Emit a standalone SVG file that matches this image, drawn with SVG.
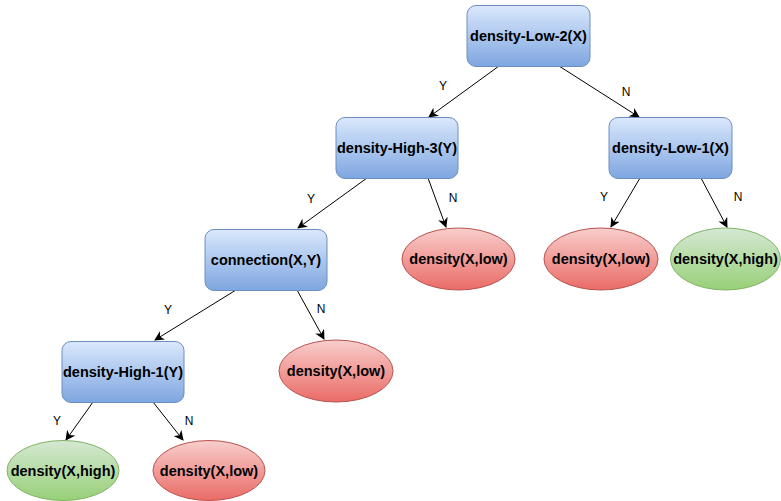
<svg xmlns="http://www.w3.org/2000/svg" width="781" height="501" viewBox="0 0 781 501">
  <defs>
    <linearGradient id="gBlue" x1="0" y1="0" x2="0" y2="1">
      <stop offset="0" stop-color="#dae8fc"/>
      <stop offset="1" stop-color="#7ea6e0"/>
    </linearGradient>
    <linearGradient id="gRed" x1="0" y1="0" x2="0" y2="1">
      <stop offset="0" stop-color="#f8cecc"/>
      <stop offset="1" stop-color="#ea6b66"/>
    </linearGradient>
    <linearGradient id="gGreen" x1="0" y1="0" x2="0" y2="1">
      <stop offset="0" stop-color="#d5e8d4"/>
      <stop offset="1" stop-color="#97d077"/>
    </linearGradient>
    <marker id="arrow" viewBox="0 0 10 10" refX="9" refY="5" markerWidth="10" markerHeight="10" markerUnits="userSpaceOnUse" orient="auto">
      <path d="M0,0 L10,5 L0,10 L3,5 Z" fill="#000"/>
    </marker>
  </defs>
  <style>
    .box { fill: url(#gBlue); stroke: #6c8ebf; stroke-width: 1; }
    .red { fill: url(#gRed); stroke: #b85450; stroke-width: 1; }
    .green { fill: url(#gGreen); stroke: #82b366; stroke-width: 1; }
    .lbl { font-family: "Liberation Sans", Arial, sans-serif; font-size: 14.5px; font-weight: bold; fill: #000; text-anchor: middle; dominant-baseline: central; }
    .edge { stroke: #000; stroke-width: 1; fill: none; marker-end: url(#arrow); }
    .el { font-family: "Liberation Sans", Arial, sans-serif; font-size: 12px; fill: #000; text-anchor: middle; dominant-baseline: central; }
  </style>

  <g id="connectors">
    <line class="edge" x1="499" y1="66" x2="429" y2="117"/>
    <text class="el" x="443" y="86">Y</text>
    <line class="edge" x1="559" y1="66" x2="639" y2="117"/>
    <text class="el" x="626" y="92">N</text>

    <line class="edge" x1="367" y1="178" x2="298" y2="228"/>
    <text class="el" x="311" y="199">Y</text>
    <line class="edge" x1="428" y1="178" x2="446" y2="227"/>
    <text class="el" x="453" y="198">N</text>

    <line class="edge" x1="640" y1="178" x2="611" y2="227"/>
    <text class="el" x="604" y="197">Y</text>
    <line class="edge" x1="701" y1="178" x2="727" y2="227"/>
    <text class="el" x="738" y="197">N</text>

    <line class="edge" x1="236" y1="290" x2="155" y2="340"/>
    <text class="el" x="168" y="310">Y</text>
    <line class="edge" x1="297" y1="290" x2="324" y2="339"/>
    <text class="el" x="321" y="309">N</text>

    <line class="edge" x1="93" y1="402" x2="66" y2="440"/>
    <text class="el" x="57" y="421">Y</text>
    <line class="edge" x1="153" y1="402" x2="183" y2="440"/>
    <text class="el" x="189" y="421">N</text>
  </g>

  <g id="density-low-2">
    <rect class="box" x="467" y="5.5" width="123" height="61" rx="9"/>
    <text class="lbl" x="528.5" y="36">density-Low-2(X)</text>
  </g>
  <g id="density-high-3">
    <rect class="box" x="336" y="117.5" width="122" height="61" rx="9"/>
    <text class="lbl" x="397" y="148">density-High-3(Y)</text>
  </g>
  <g id="density-low-1">
    <rect class="box" x="609" y="117.5" width="123" height="61" rx="9"/>
    <text class="lbl" x="670.5" y="148">density-Low-1(X)</text>
  </g>
  <g id="connection">
    <rect class="box" x="205" y="229.5" width="122" height="61" rx="9"/>
    <text class="lbl" x="266" y="260">connection(X,Y)</text>
  </g>
  <g id="density-high-1">
    <rect class="box" x="62" y="341.5" width="122" height="61" rx="9"/>
    <text class="lbl" x="123" y="372">density-High-1(Y)</text>
  </g>

  <g id="leaf-low-a">
    <ellipse class="red" cx="458.5" cy="259" rx="56.5" ry="31"/>
    <text class="lbl" x="458.5" y="259">density(X,low)</text>
  </g>
  <g id="leaf-low-b">
    <ellipse class="red" cx="601" cy="259" rx="57" ry="31"/>
    <text class="lbl" x="601" y="259">density(X,low)</text>
  </g>
  <g id="leaf-high-a">
    <ellipse class="green" cx="725.5" cy="259" rx="55" ry="31"/>
    <text class="lbl" x="725.5" y="259">density(X,high)</text>
  </g>
  <g id="leaf-low-c">
    <ellipse class="red" cx="336" cy="371" rx="57" ry="31"/>
    <text class="lbl" x="336" y="371">density(X,low)</text>
  </g>
  <g id="leaf-high-b">
    <ellipse class="green" cx="63" cy="470.5" rx="56" ry="30"/>
    <text class="lbl" x="63" y="470.5">density(X,high)</text>
  </g>
  <g id="leaf-low-d">
    <ellipse class="red" cx="209" cy="470.5" rx="56" ry="30"/>
    <text class="lbl" x="209" y="470.5">density(X,low)</text>
  </g>
</svg>
